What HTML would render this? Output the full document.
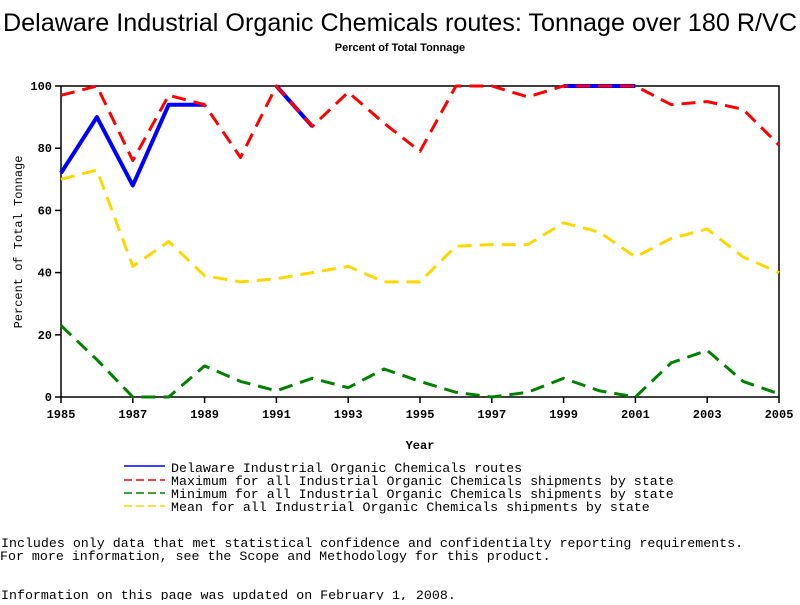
<!DOCTYPE html>
<html><head><meta charset="utf-8"><style>
body{margin:0;background:#fff;width:800px;height:600px;overflow:hidden}
text{font-family:"Liberation Mono",monospace}
</style></head><body>
<svg id="chart" width="800" height="600">
<text x="3" y="31" textLength="794" lengthAdjust="spacingAndGlyphs" style="font-family:'Liberation Sans',sans-serif;font-size:25px">Delaware Industrial Organic Chemicals routes: Tonnage over 180 R/VC</text>
<text x="400" y="51" text-anchor="middle" style="font-family:'Liberation Sans',sans-serif;font-size:11px;font-weight:bold">Percent of Total Tonnage</text>
<g id="plot"></g>
<text x="420" y="449" text-anchor="middle" font-size="12" font-weight="bold">Year</text>
<text transform="translate(22,242) rotate(-90)" text-anchor="middle" font-size="12">Percent of Total Tonnage</text>
<g font-size="13.3">
<line x1="124" y1="466" x2="165" y2="466" stroke="#0000ff" stroke-width="1.5"/>
<text x="171" y="472">Delaware Industrial Organic Chemicals routes</text>
<line x1="124" y1="480" x2="165" y2="480" stroke="#ff0000" stroke-width="1.5" stroke-dasharray="8,4"/>
<text x="171" y="485">Maximum for all Industrial Organic Chemicals shipments by state</text>
<line x1="124" y1="493" x2="165" y2="493" stroke="#008000" stroke-width="1.5" stroke-dasharray="8,4"/>
<text x="171" y="498">Minimum for all Industrial Organic Chemicals shipments by state</text>
<line x1="124" y1="506" x2="165" y2="506" stroke="#ffd700" stroke-width="1.5" stroke-dasharray="8,4"/>
<text x="171" y="511">Mean for all Industrial Organic Chemicals shipments by state</text>
</g>
<text x="1" y="547" font-size="13.3">Includes only data that met statistical confidence and confidentialty reporting requirements.</text>
<text x="0" y="560" font-size="13.3">For more information, see the Scope and Methodology for this product.</text>
<text x="1" y="599" font-size="13.3">Information on this page was updated on February 1, 2008.</text>
</svg>
<script>
const years=[1985,1986,1987,1988,1989,1990,1991,1992,1993,1994,1995,1996,1997,1998,1999,2000,2001,2002,2003,2004,2005];
const delaware=[72,90,68,94,94,null,100,87,null,null,null,null,null,null,100,100,100,null,null,null,null];
const maximum=[97,100,76,97,94,77,100,87,98,88,79,100,100,96.5,100,100,100,94,95,92.5,81];
const minimum=[23,12,0,0,10,5,2,6,3,9,5,1.5,0,1.5,6,2,0,11,15,5,1];
const mean=[70,73,42,50,39,37,38,40,42,37,37,48.5,49,49,56,53,45,51,54,45,40];
const xTicks=[1985,1987,1989,1991,1993,1995,1997,1999,2001,2003,2005];
const yTicks=[0,20,40,60,80,100];
const X0=61,X1=779,Y0=397,Y1=86;
const xs=v=>X0+(v-1985)/(2005-1985)*(X1-X0);
const ys=v=>Y0-v/100*(Y0-Y1);
const NS="http://www.w3.org/2000/svg";
const g=document.getElementById('plot');
function mk(t,a){const e=document.createElementNS(NS,t);for(const k in a)e.setAttribute(k,a[k]);g.appendChild(e);return e;}
const frame=mk('rect',{x:X0,y:Y1,width:X1-X0,height:Y0-Y1,fill:'none',stroke:'#000','stroke-width':1.5});


xTicks.forEach(t=>{
  const l=mk('line',{x1:xs(t),x2:xs(t),y1:Y0,y2:Y0+6,stroke:'#000','stroke-width':1.5});
  
  
  const tx=mk('text',{x:xs(t),y:Y0+21,'text-anchor':'middle','font-size':12,'font-weight':'bold'});
  tx.textContent=t;
  
  
});
yTicks.forEach(t=>{
  const l=mk('line',{x1:X0-6,x2:X0,y1:ys(t),y2:ys(t),stroke:'#000','stroke-width':1.5});
  
  
  const tx=mk('text',{x:X0-9,y:ys(t)+4,'text-anchor':'end','font-size':12,'font-weight':'bold'});
  tx.textContent=t;
  
  
});
function series(vals,color,w,dash,name){
  let d='',pen=false;
  vals.forEach((v,i)=>{
    if(v===null){pen=false;return;}
    d+=(pen?'L':'M')+xs(years[i]).toFixed(1)+' '+ys(v).toFixed(1);
    pen=true;
  });
  const p=mk('path',{d:d,fill:'none',stroke:color,'stroke-width':w,'stroke-linejoin':'round'});
  if(dash)p.setAttribute('stroke-dasharray',dash);
  
  
}
series(delaware,'#0000ff',4,null,'delaware-line');
series(maximum,'#ff0000',3,'14,8','maximum-line');
series(minimum,'#008000',3,'14,8','minimum-line');
series(mean,'#ffd700',3,'14,8','mean-line');
</script>
</body></html>
